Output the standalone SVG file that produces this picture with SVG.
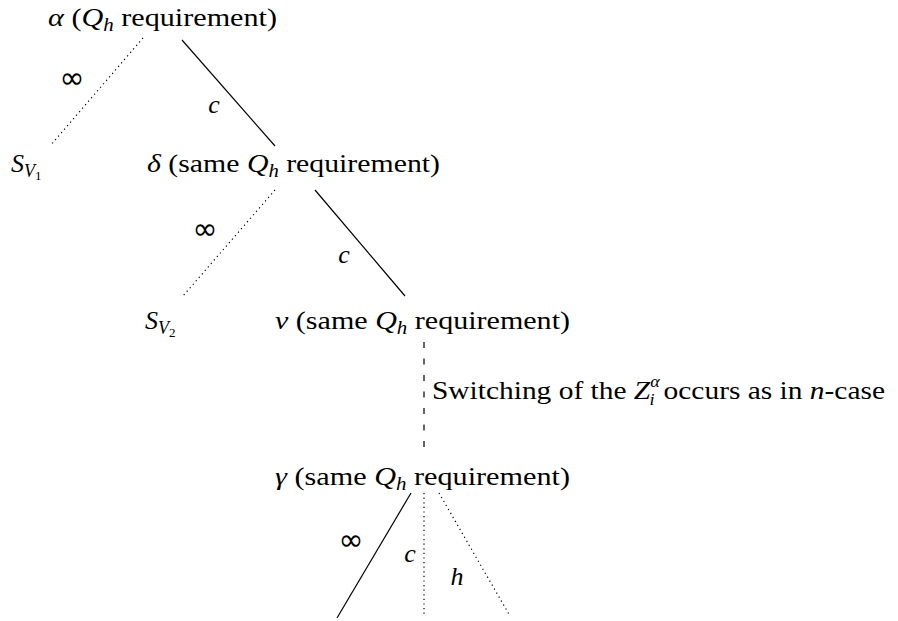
<svg xmlns="http://www.w3.org/2000/svg" width="898" height="621" viewBox="0 0 898 621">
<style>
text{font-family:"Liberation Serif","DejaVu Serif",serif;font-size:26px;fill:#000}
.m{font-style:italic}
.s{font-size:18px}
.sc{font-size:16px}
.ss{font-size:13px}
.inf{font-family:"DejaVu Sans",sans-serif;font-size:30px;text-anchor:middle}
.lab{text-anchor:middle}
.solid{stroke:#000;stroke-width:1.2;fill:none}
.dot{stroke:#000;stroke-width:1.2;stroke-dasharray:1.2 3.4;fill:none}
.dash{stroke:#000;stroke-width:1.2;stroke-dasharray:6 10.5;fill:none}
</style>
<rect width="898" height="621" fill="#fff"/>
<g id="connectors">
<line class="dot" x1="143" y1="38" x2="50" y2="146"/>
<line class="solid" x1="182" y1="40" x2="275" y2="146"/>
<line class="dot" x1="275" y1="190" x2="183" y2="296"/>
<line class="solid" x1="315" y1="190" x2="405" y2="296"/>
<line class="dash" x1="424" y1="342" x2="424" y2="448"/>
<line class="solid" x1="411" y1="493" x2="337" y2="618"/>
<line class="dot" x1="424" y1="493" x2="424" y2="616"/>
<line class="dot" x1="439" y1="493" x2="510" y2="616"/>
<text class="inf" x="72" y="88">∞</text>
<text class="m lab" x="214" y="113">c</text>
<text class="inf" x="205" y="239">∞</text>
<text class="m lab" x="344" y="263">c</text>
<text class="inf" x="351" y="550">∞</text>
<text class="m lab" x="410" y="562">c</text>
<text class="m lab" x="457" y="585">h</text>
<text x="432" y="399" textLength="453" lengthAdjust="spacingAndGlyphs">Switching of the <tspan class="m">Z</tspan><tspan class="sc m" dy="-12">α</tspan><tspan class="sc m" dx="-9" dy="18">i</tspan><tspan dx="8" dy="-6">occurs as in </tspan><tspan class="m">n</tspan>-case</text>
</g>
<g id="alpha"><text x="48" y="26" textLength="229" lengthAdjust="spacingAndGlyphs"><tspan class="m">α</tspan> (<tspan class="m">Q</tspan><tspan class="s m" dy="5">h</tspan><tspan dy="-5"> requirement)</tspan></text></g>
<g id="SV1"><text class="m" x="11" y="172">S<tspan class="s" dy="5">V</tspan><tspan class="ss" dy="3" font-style="normal">1</tspan></text></g>
<g id="delta"><text x="147" y="172" textLength="293" lengthAdjust="spacingAndGlyphs"><tspan class="m">δ</tspan> (same <tspan class="m">Q</tspan><tspan class="s m" dy="5">h</tspan><tspan dy="-5"> requirement)</tspan></text></g>
<g id="SV2"><text class="m" x="145" y="329">S<tspan class="s" dy="5">V</tspan><tspan class="ss" dy="3" font-style="normal">2</tspan></text></g>
<g id="nu"><text x="275" y="329" textLength="295" lengthAdjust="spacingAndGlyphs"><tspan class="m">ν</tspan> (same <tspan class="m">Q</tspan><tspan class="s m" dy="5">h</tspan><tspan dy="-5"> requirement)</tspan></text></g>
<g id="gamma"><text x="275" y="485" textLength="295" lengthAdjust="spacingAndGlyphs"><tspan class="m">γ</tspan> (same <tspan class="m">Q</tspan><tspan class="s m" dy="5">h</tspan><tspan dy="-5"> requirement)</tspan></text></g>
</svg>
